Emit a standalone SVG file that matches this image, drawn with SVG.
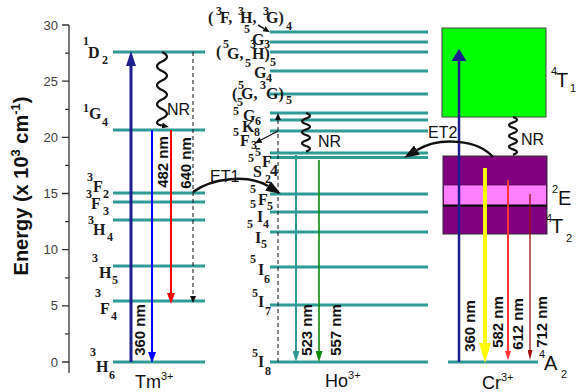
<svg xmlns="http://www.w3.org/2000/svg" width="576" height="392" viewBox="0 0 576 392">
<style>
.lv{stroke:#2f9b95;stroke-width:3;fill:none}
.ax{stroke:#333;stroke-width:1.3;fill:none}
.tk{font-family:"Liberation Sans",Arial,sans-serif;font-size:13px;fill:#404040;text-anchor:end}
.st{font-family:"Liberation Serif","Times New Roman",serif;font-weight:bold;fill:#1a1a1a}
.m{font-size:16px}
.s{font-size:12px}
.nm{font-family:"Liberation Sans",Arial,sans-serif;font-size:15px;font-weight:bold;fill:#111;text-anchor:middle}
.lab{font-family:"Liberation Sans",Arial,sans-serif;font-size:16px;fill:#111}
.cr{font-family:"Liberation Sans",Arial,sans-serif;font-size:20px;fill:#111}
.cs{font-size:11px}
.ion{font-family:"Liberation Sans",Arial,sans-serif;font-size:18px;fill:#111}
.is{font-size:11px}
.wv{stroke:#111;stroke-width:2.2;fill:none}
.ds{stroke:#111;stroke-width:1;stroke-dasharray:4 3;fill:none}
.et{stroke:#111;stroke-width:2.5;fill:none}
</style>
<defs>
<marker id="hNavyT" viewBox="0 0 10 10" refX="0" refY="5" markerWidth="15" markerHeight="10" markerUnits="userSpaceOnUse" orient="auto" preserveAspectRatio="none"><path d="M0,0L10,5L0,10z" fill="#1f1f8f"/></marker>
<marker id="hNavyC" viewBox="0 0 10 10" refX="0" refY="5" markerWidth="12" markerHeight="15" markerUnits="userSpaceOnUse" orient="auto" preserveAspectRatio="none"><path d="M0,0L10,5L0,10z" fill="#1f1f8f"/></marker>
<marker id="hBlue" viewBox="0 0 10 10" refX="0" refY="5" markerWidth="11" markerHeight="8" markerUnits="userSpaceOnUse" orient="auto" preserveAspectRatio="none"><path d="M0,0L10,5L0,10z" fill="#0000ff"/></marker>
<marker id="hRed" viewBox="0 0 10 10" refX="0" refY="5" markerWidth="11" markerHeight="8" markerUnits="userSpaceOnUse" orient="auto" preserveAspectRatio="none"><path d="M0,0L10,5L0,10z" fill="#ff0000"/></marker>
<marker id="hTeal" viewBox="0 0 10 10" refX="0" refY="5" markerWidth="11" markerHeight="7" markerUnits="userSpaceOnUse" orient="auto" preserveAspectRatio="none"><path d="M0,0L10,5L0,10z" fill="#2f9b95"/></marker>
<marker id="hGreen" viewBox="0 0 10 10" refX="0" refY="5" markerWidth="11" markerHeight="7" markerUnits="userSpaceOnUse" orient="auto" preserveAspectRatio="none"><path d="M0,0L10,5L0,10z" fill="#0a8a0a"/></marker>
<marker id="hYel" viewBox="0 0 10 10" refX="0" refY="5" markerWidth="20" markerHeight="12" markerUnits="userSpaceOnUse" orient="auto" preserveAspectRatio="none"><path d="M0,0L10,5L0,10z" fill="#ffff00"/></marker>
<marker id="hRed2" viewBox="0 0 10 10" refX="0" refY="5" markerWidth="9" markerHeight="6" markerUnits="userSpaceOnUse" orient="auto" preserveAspectRatio="none"><path d="M0,0L10,5L0,10z" fill="#ff3333"/></marker>
<marker id="hDred" viewBox="0 0 10 10" refX="0" refY="5" markerWidth="10" markerHeight="5" markerUnits="userSpaceOnUse" orient="auto" preserveAspectRatio="none"><path d="M0,0L10,5L0,10z" fill="#a01010"/></marker>
<marker id="hBlk" viewBox="0 0 10 10" refX="0" refY="5" markerWidth="15" markerHeight="11" markerUnits="userSpaceOnUse" orient="auto" preserveAspectRatio="none"><path d="M0,0L10,5L0,10z" fill="#111"/></marker>
<marker id="hSm" viewBox="0 0 10 10" refX="0" refY="5" markerWidth="7" markerHeight="6" markerUnits="userSpaceOnUse" orient="auto" preserveAspectRatio="none"><path d="M0,0L10,5L0,10z" fill="#111"/></marker>
</defs>

<g id="axis">
<path class="ax" d="M69,25V373"/>
<path class="ax" d="M62,362H69M62,305.8H69M62,249.7H69M62,193.5H69M62,137.3H69M62,81.2H69M62,25H69"/>
<path class="ax" d="M65,333.9H69M65,277.8H69M65,221.6H69M65,165.4H69M65,109.3H69M65,53.1H69"/>
<text class="tk" x="58" y="366.5">0</text>
<text class="tk" x="58" y="310.3">5</text>
<text class="tk" x="58" y="254.2">10</text>
<text class="tk" x="58" y="198">15</text>
<text class="tk" x="58" y="141.8">20</text>
<text class="tk" x="58" y="85.7">25</text>
<text class="tk" x="58" y="29.5">30</text>
<text transform="translate(28,186) rotate(-90)" text-anchor="middle" font-family="Liberation Sans,Arial,sans-serif" font-weight="bold" font-size="20" fill="#111">Energy (x 10<tspan dy="-8" font-size="13">3</tspan><tspan dy="8"> cm</tspan><tspan dy="-8" font-size="13">-1</tspan><tspan dy="8">)</tspan></text>
</g>

<g id="tm">
<path class="lv" d="M113,52H205M113,130H205M113,193H205M113,202H205M113,220H205M113,266H205M113,301H205M113,362H205"/>
<text class="st"><tspan class="s" x="83" y="45">1</tspan><tspan class="m" x="88" y="58">D</tspan><tspan class="s" x="102" y="64">2</tspan></text>
<text class="st"><tspan class="s" x="83" y="112">1</tspan><tspan class="m" x="89" y="119">G</tspan><tspan class="s" x="102" y="126">4</tspan></text>
<text class="st"><tspan class="s" x="87" y="181">3</tspan><tspan class="m" x="93" y="192">F</tspan><tspan class="s" x="103" y="198">2</tspan></text>
<text class="st"><tspan class="s" x="86" y="198">3</tspan><tspan class="m" x="91" y="209">F</tspan><tspan class="s" x="103" y="215">3</tspan></text>
<text class="st"><tspan class="s" x="88" y="224">3</tspan><tspan class="m" x="93" y="235">H</tspan><tspan class="s" x="107" y="241">4</tspan></text>
<text class="st"><tspan class="s" x="92" y="262">3</tspan><tspan class="m" x="99" y="278">H</tspan><tspan class="s" x="112" y="284">5</tspan></text>
<text class="st"><tspan class="s" x="95" y="297">3</tspan><tspan class="m" x="100" y="314">F</tspan><tspan class="s" x="111" y="320">4</tspan></text>
<text class="st"><tspan class="s" x="90" y="356">3</tspan><tspan class="m" x="96" y="372">H</tspan><tspan class="s" x="109" y="379">6</tspan></text>
<text class="ion" x="135" y="388">Tm<tspan class="is" dy="-8">3+</tspan></text>
</g>

<g id="ho">
<path class="lv" d="M270,32H428M270,42H428M270,52H428M270,71H428M270,94H428M270,113H428M270,120H428M270,131H428M270,153H428M270,157.5H428M270,194H428M270,212H428M270,232H428M270,267H428M270,305H428M270,362H428"/>
<text class="st"><tspan class="m" x="208" y="23">(</tspan><tspan class="s" x="216" y="15">3</tspan><tspan class="m" x="220" y="23">F,</tspan><tspan class="s" x="238" y="15">3</tspan><tspan class="m" x="240" y="23">H,</tspan><tspan class="s" x="263" y="15">3</tspan><tspan class="m" x="266" y="23">G)</tspan><tspan class="s" x="286" y="30">4</tspan></text>
<text class="st"><tspan class="s" x="244" y="33">5</tspan><tspan class="m" x="252" y="45">G</tspan><tspan class="s" x="264" y="48">3</tspan></text>
<text class="st"><tspan class="m" x="216" y="57">(</tspan><tspan class="s" x="223" y="48">5</tspan><tspan class="m" x="227" y="59">G,</tspan><tspan class="s" x="250" y="48">3</tspan><tspan class="m" x="252" y="59">H)</tspan><tspan class="s" x="270" y="66">5</tspan></text>
<text class="st"><tspan class="s" x="245" y="67">5</tspan><tspan class="m" x="254" y="78">G</tspan><tspan class="s" x="266" y="82">4</tspan></text>
<text class="st"><tspan class="m" x="232" y="99">(</tspan><tspan class="s" x="238" y="89">5</tspan><tspan class="m" x="241" y="99">G,</tspan><tspan class="s" x="260" y="89">3</tspan><tspan class="m" x="266" y="99">G)</tspan><tspan class="s" x="286" y="104">5</tspan></text>
<text class="st"><tspan class="s" x="237" y="106">5</tspan></text>
<text class="st"><tspan class="s" x="233" y="115">5</tspan><tspan class="m" x="243" y="121">G</tspan><tspan class="s" x="255" y="125">6</tspan></text>
<text class="st"><tspan class="m" x="242" y="132">K</tspan><tspan class="s" x="254" y="136">8</tspan></text>
<text class="st"><tspan class="s" x="233" y="136">5</tspan><tspan class="m" x="240" y="146">F</tspan><tspan class="s" x="251" y="149">3</tspan></text>
<text class="st"><tspan class="s" x="255" y="156">5</tspan></text>
<text class="st"><tspan class="s" x="248" y="162">5</tspan><tspan class="m" x="262" y="167">F</tspan><tspan class="m" x="270" y="176">4</tspan><tspan class="m" x="253" y="177">S</tspan><tspan class="s" x="265" y="183">2</tspan></text>
<text class="st"><tspan class="s" x="250" y="193">5</tspan><tspan class="m" x="258" y="205">F</tspan><tspan class="s" x="267" y="210">5</tspan></text>
<text class="st"><tspan class="s" x="250" y="208">5</tspan><tspan class="m" x="257" y="222">I</tspan><tspan class="s" x="263" y="228">4</tspan></text>
<text class="st"><tspan class="s" x="247" y="228">5</tspan><tspan class="m" x="255" y="243">I</tspan><tspan class="s" x="261" y="248">5</tspan></text>
<text class="st"><tspan class="s" x="250" y="263">5</tspan><tspan class="m" x="258" y="275">I</tspan><tspan class="s" x="264" y="283">6</tspan></text>
<text class="st"><tspan class="s" x="252" y="297">5</tspan><tspan class="m" x="258" y="307">I</tspan><tspan class="s" x="265" y="315">7</tspan></text>
<text class="st"><tspan class="s" x="252" y="357">5</tspan><tspan class="m" x="258" y="367">I</tspan><tspan class="s" x="265" y="375">8</tspan></text>
<text class="ion" x="325" y="387">Ho<tspan class="is" dy="-8">3+</tspan></text>
</g>

<g id="cr">
<rect x="442" y="28" width="104" height="89" fill="#00ff00" stroke="#444" stroke-width="1"/>
<rect x="443" y="156" width="104" height="78" fill="#800080" stroke="#333" stroke-width="1"/>
<rect x="443.5" y="185" width="103" height="20" fill="#ff80ff" stroke="#500050" stroke-width="0.8"/>
<path d="M443,205.7H547" stroke="#111" stroke-width="2"/>
<path class="lv" d="M448,362H538"/>
<text class="cr"><tspan class="cs" x="551" y="75">4</tspan><tspan x="556" y="87">T</tspan><tspan class="cs" x="570" y="92">1</tspan></text>
<text class="cr"><tspan class="cs" x="552" y="193">2</tspan><tspan x="558" y="205">E</tspan></text>
<text class="cr"><tspan class="cs" x="546" y="222">4</tspan><tspan x="551" y="233">T</tspan><tspan class="cs" x="566" y="242">2</tspan></text>
<text class="cr"><tspan class="cs" x="539" y="358">4</tspan><tspan x="544" y="370">A</tspan><tspan class="cs" x="561" y="378">2</tspan></text>
<text class="ion" x="482" y="389">Cr<tspan class="is" dy="-8">3+</tspan></text>
</g>

<g id="connectors">
<path d="M131,362V66" stroke="#1f1f8f" stroke-width="3" marker-end="url(#hNavyT)"/>
<path d="M152,130V352" stroke="#0000ff" stroke-width="2" marker-end="url(#hBlue)"/>
<path d="M171,130V293" stroke="#ff0000" stroke-width="2" marker-end="url(#hRed)"/>
<path class="ds" d="M193,52V296" marker-end="url(#hSm)"/>
<path class="wv" d="M162,52q10,4.75 0,9.5t0,9.5t0,9.5t0,9.5t0,9.5t0,9.5t0,9.5t0,7" marker-end="url(#hSm)"/>
<text class="lab" x="167" y="115">NR</text>
<text class="nm" transform="translate(145,330) rotate(-90)">360 nm</text>
<text class="nm" transform="translate(168,162) rotate(-90)">482 nm</text>
<text class="nm" transform="translate(191,163) rotate(-90)">640 nm</text>

<path class="et" d="M193,192C212,178 248,174 268,186" marker-end="url(#hBlk)"/>
<text class="lab" x="210" y="182">ET1</text>

<path class="ds" d="M278,362V120" marker-end="url(#hSm)"/>
<path d="M258,25L264,28.7" stroke="#111" stroke-width="1.5" marker-end="url(#hSm)"/>
<path d="M278,131L261,140" stroke="#111" stroke-width="1.2" marker-end="url(#hSm)"/>
<path d="M296,155V351" stroke="#2f9b95" stroke-width="2" marker-end="url(#hTeal)"/>
<path d="M319,160V351" stroke="#0a8a0a" stroke-width="1.6" marker-end="url(#hGreen)"/>
<path class="wv" d="M306,113q8,2.75 0,5.5t0,5.5t0,5.5t0,5.5t0,5.5t0,5.5t0,5.5"/>
<text class="lab" x="318" y="147">NR</text>
<text class="nm" transform="translate(312,330) rotate(-90)">523 nm</text>
<text class="nm" transform="translate(341,330) rotate(-90)">557 nm</text>

<path d="M459,362V61" stroke="#1f1f8f" stroke-width="2.5" marker-end="url(#hNavyC)"/>
<path d="M485,168V343" stroke="#ffff00" stroke-width="4" marker-end="url(#hYel)"/>
<path d="M508,180V351" stroke="#ff3333" stroke-width="2" marker-end="url(#hRed2)"/>
<path d="M530,194V350" stroke="#a01010" stroke-width="1.3" marker-end="url(#hDred)"/>
<path class="wv" d="M513,117q8,2.7 0,5.4t0,5.4t0,5.4t0,5.4t0,5.4t0,5.4t0,5.4"/>
<text class="lab" x="521" y="145">NR</text>
<path class="et" d="M493,157C478,140 440,136 417,150" marker-end="url(#hBlk)"/>
<text class="lab" x="428" y="138">ET2</text>
<text class="nm" transform="translate(475,326) rotate(-90)">360 nm</text>
<text class="nm" transform="translate(503,322) rotate(-90)">582 nm</text>
<text class="nm" transform="translate(523,324) rotate(-90)">612 nm</text>
<text class="nm" transform="translate(547,322) rotate(-90)">712 nm</text>
</g>
</svg>
